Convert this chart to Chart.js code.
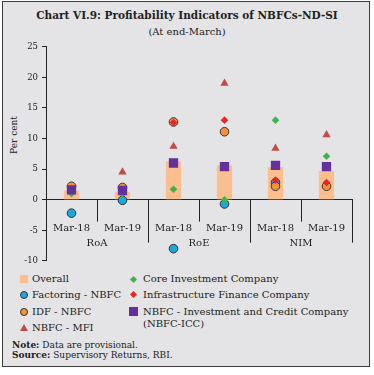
<!DOCTYPE html>
<html>
<head>
<meta charset="utf-8">
<script src="https://cdn.jsdelivr.net/npm/chart.js@4/dist/chart.umd.min.js"></script>
<style>
  body { margin:0; width:374px; height:375px; position:relative; overflow:hidden; background:#fff;
         font-family:"DejaVu Serif", serif; color:#222; }
  #frame { position:absolute; left:2px; top:1px; width:366px; height:364px; border:1.5px solid #3c3c3c; background:#e4e4e6; }
  .t { position:absolute; white-space:nowrap; }
  #title { left:0; width:374px; top:9px; text-align:center; font-weight:bold; font-size:10.5px; line-height:13px; }
  #sub { left:0; width:374px; top:26px; text-align:center; font-size:10px; line-height:12px; }
  #ytitle { left:14px; top:135px; font-size:9px; transform:translate(-50%,-50%) rotate(-90deg); }
  #wrap { position:absolute; left:0; top:36px; width:374px; height:234px; }
  .leg { position:absolute; font-size:10px; line-height:12px; white-space:nowrap; }
  .mk { position:absolute; }
  .note { font-size:9px; line-height:10px; left:12px; }
</style>
</head>
<body>
<div id="frame"></div>
<div class="t" id="title">Chart VI.9: Profitability Indicators of NBFCs-ND-SI</div>
<div class="t" id="sub">(At end-March)</div>
<div class="t" id="ytitle">Per cent</div>
<div id="wrap"><canvas id="c"></canvas></div>
<div id="legend"></div>
<div class="t note" style="top:340px"><b>Note:</b> Data are provisional.</div>
<div class="t note" style="top:350px"><b>Source:</b> Supervisory Returns, RBI.</div>
<script>
const categories = ['Mar-18', 'Mar-19', 'Mar-18', 'Mar-19', 'Mar-18', 'Mar-19'];
const groups = ['RoA', 'RoE', 'NIM'];

const overall   = [1.5, 1.3, 6.3, 5.6, 5.3, 4.7];
const factoring = [-2.2, -0.1, -8.0, -0.7, 2.8, null];
const idf       = [2.2, 2.0, 12.7, 11.1, 2.2, 2.2];
const mfi       = [1.7, 4.5, 8.7, 19.0, 8.4, 10.6];
const cic       = [1.0, 1.0, 1.7, 0.0, 13.0, 7.1];
const ifc       = [1.5, 1.5, 12.6, 13.0, 3.2, 2.8];
const icc       = [1.6, 1.5, 6.0, 5.4, 5.6, 5.4];

const yTicks = [-10, -5, 0, 5, 10, 15, 20, 25];

const FONT = '"DejaVu Serif", serif';
const INK = '#222';

function marker(label, data, style, color, radius, border, order) {
  return {
    type: 'line',
    label: label,
    data: data,
    showLine: false,
    pointStyle: style,
    pointRadius: radius,
    pointBackgroundColor: color,
    pointBorderColor: border ? '#333' : color,
    pointBorderWidth: border ? 1 : 0,
    order: order
  };
}

// separators hanging under the zero line and the group names
const groupLines = {
  id: 'groupLines',
  afterDraw(chart) {
    const { ctx, scales: { x, y } } = chart;
    const y0 = y.getPixelForValue(0);
    const half = (x.getPixelForValue(1) - x.getPixelForValue(0)) / 2;
    ctx.save();
    ctx.strokeStyle = INK;
    ctx.lineWidth = 1;
    categories.forEach((c, i) => {
      const xb = Math.round(x.getPixelForValue(i) + half) + 0.5;
      const len = i % 2 === 0 ? 22 : 43;
      ctx.beginPath();
      ctx.moveTo(xb, y0);
      ctx.lineTo(xb, y0 + len);
      ctx.stroke();
    });
    ctx.fillStyle = INK;
    ctx.font = '10px ' + FONT;
    ctx.textAlign = 'center';
    ctx.textBaseline = 'middle';
    groups.forEach((g, i) => {
      const xc = (x.getPixelForValue(2 * i) + x.getPixelForValue(2 * i + 1)) / 2;
      ctx.fillText(g, xc, y0 + 44);
    });
    ctx.restore();
  }
};

new Chart(document.getElementById('c'), {
  type: 'bar',
  data: {
    labels: categories,
    datasets: [
      marker('NBFC - Investment and Credit Company (NBFC-ICC)', icc, 'rect', '#64309a', 6.6, false, 1),
      marker('Infrastructure Finance Company', ifc, 'rectRot', '#e32726', 3.8, false, 2),
      marker('Core Investment Company', cic, 'rectRot', '#3db54a', 3.8, false, 3),
      marker('NBFC - MFI', mfi, 'triangle', '#c24a4a', 4.8, false, 4),
      marker('IDF - NBFC', idf, 'circle', '#f5913e', 4.3, true, 5),
      marker('Factoring - NBFC', factoring, 'circle', '#1ba7df', 4.3, true, 6),
      {
        label: 'Overall',
        data: overall,
        backgroundColor: '#fbbf8f',
        barPercentage: 0.6,
        categoryPercentage: 0.5,
        order: 7
      }
    ]
  },
  options: {
    responsive: true,
    maintainAspectRatio: false,
    animation: false,
    events: [],
    layout: { padding: { top: 10.7, right: 22, bottom: 7, left: 0 } },
    plugins: { legend: { display: false }, tooltip: { enabled: false } },
    scales: {
      x: {
        position: { y: 0 },
        offset: true,
        border: { color: INK, width: 1 },
        grid: { drawOnChartArea: false, drawTicks: false },
        ticks: { color: INK, font: { family: FONT, size: 10 }, padding: 23, maxRotation: 0 }
      },
      y: {
        min: -10,
        max: 25,
        afterFit(scale) { scale.width = 46; },
        afterBuildTicks(scale) { scale.ticks = yTicks.map(v => ({ value: v })); },
        border: { color: INK, width: 1 },
        grid: { drawOnChartArea: false, drawTicks: true, tickLength: 4, tickColor: INK },
        ticks: { color: INK, font: { family: FONT, size: 8.5 }, padding: 4 }
      }
    }
  },
  plugins: [groupLines]
});

// legend, two columns
const legendItems = [
  { text: 'Overall', shape: 'sq', color: '#fbbf8f', x: 24, y: 279 },
  { text: 'Factoring - NBFC', shape: 'ci', color: '#1ba7df', x: 24, y: 294.5 },
  { text: 'IDF - NBFC', shape: 'ci', color: '#f5913e', x: 24, y: 311.5 },
  { text: 'NBFC - MFI', shape: 'tr', color: '#c24a4a', x: 24, y: 328 },
  { text: 'Core Investment Company', shape: 'di', color: '#3db54a', x: 133, y: 279 },
  { text: 'Infrastructure Finance Company', shape: 'di', color: '#e32726', x: 133, y: 294.5 },
  { text: 'NBFC - Investment and Credit Company<br>(NBFC-ICC)', shape: 'sq2', color: '#64309a', x: 133, y: 311.5 }
];
const legend = document.getElementById('legend');
legendItems.forEach(it => {
  const m = document.createElement('div');
  m.className = 'mk';
  let s = '';
  if (it.shape === 'sq') s = `left:${it.x - 4}px;top:${it.y - 4}px;width:8px;height:8px;background:${it.color};`;
  if (it.shape === 'sq2') s = `left:${it.x - 4.5}px;top:${it.y - 4.5}px;width:9px;height:9px;background:${it.color};`;
  if (it.shape === 'ci') s = `left:${it.x - 4}px;top:${it.y - 4}px;width:6px;height:6px;border-radius:50%;border:1px solid #333;background:${it.color};`;
  if (it.shape === 'di') s = `left:${it.x - 2.5}px;top:${it.y - 2.5}px;width:5px;height:5px;transform:rotate(45deg);background:${it.color};`;
  if (it.shape === 'tr') s = `left:${it.x - 4}px;top:${it.y - 4}px;width:0;height:0;border-left:4px solid transparent;border-right:4px solid transparent;border-bottom:7px solid ${it.color};`;
  m.style.cssText = s;
  legend.appendChild(m);
  const t = document.createElement('div');
  t.className = 'leg';
  t.style.left = (it.x + (it.x < 100 ? 8 : 10)) + 'px';
  t.style.top = (it.y - 6) + 'px';
  t.innerHTML = it.text;
  legend.appendChild(t);
});
</script>
</body>
</html>
